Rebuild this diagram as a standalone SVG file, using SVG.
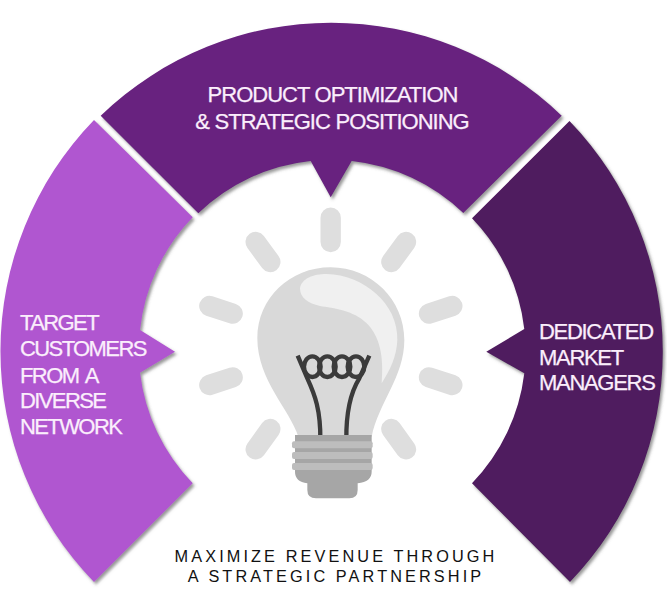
<svg xmlns="http://www.w3.org/2000/svg" width="667" height="607" viewBox="0 0 667 607">
<defs>
<filter id="sh" x="-10%" y="-10%" width="120%" height="120%"><feDropShadow dx="2" dy="2.5" stdDeviation="1.6" flood-color="#555" flood-opacity="0.6"/></filter>
</defs>
<style>
.lbl{font-family:"Liberation Sans",Arial,sans-serif;font-size:22px;fill:#fbeefc;stroke:#fbeefc;stroke-width:0.25px}
.top{letter-spacing:-1px;word-spacing:0.5px}
.lft{letter-spacing:-1.6px;word-spacing:3px}
.rgt{letter-spacing:-1.3px}
.cap{font-family:"Liberation Sans",Arial,sans-serif;font-size:16.3px;fill:#111;letter-spacing:3.1px;text-anchor:middle}
.ray{stroke:#dedede;stroke-width:61;stroke-linecap:round;fill:none}
.wire{stroke:#3b3b3b;stroke-width:13;fill:none}
.thread{fill:#bdbdbd}
</style>
<rect width="667" height="607" fill="#fff"/>
<g id="node-customers">
<path filter="url(#sh)" fill="#b056d0" d="M94 120A332 332 0 0 0 94 582L192.700 483.300A191 191 0 0 1 140 372.700L175 351.700L140 330A191 191 0 0 1 192.700 217.300Z"/>
<text class="lbl lft" x="20" y="330">TARGET</text>
<text class="lbl lft" x="20" y="356">CUSTOMERS</text>
<text class="lbl lft" x="20" y="382.500">FROM A</text>
<text class="lbl lft" x="20" y="408">DIVERSE</text>
<text class="lbl lft" x="20" y="434">NETWORK</text>
</g>
<g id="node-managers">
<path filter="url(#sh)" fill="#4f1a5e" d="M569.500 121A332 332 0 0 1 570 582L472 483.300A191 191 0 0 0 524.300 373.300L486.300 351.700L524.300 329A191 191 0 0 0 472 218.300Z"/>
<text class="lbl rgt" x="539" y="338.500">DEDICATED</text>
<text class="lbl rgt" x="539" y="365">MARKET</text>
<text class="lbl rgt" x="539" y="390">MANAGERS</text>
</g>
<g id="node-product">
<path filter="url(#sh)" fill="#68217f" d="M100.700 115.700A332 332 0 0 1 561.700 115.700L463.300 213A191 191 0 0 0 351.700 161L330.700 197.300L310.700 161A191 191 0 0 0 198.300 213.300Z"/>
<text class="lbl top" x="332.500" y="102.300" text-anchor="middle">PRODUCT OPTIMIZATION</text>
<text class="lbl top" x="332" y="128.500" text-anchor="middle">&amp; STRATEGIC POSITIONING</text>
</g>
<g id="node-bulb" transform="translate(190 200) scale(0.33333)">
<path class="ray" d="M422 53V126M197 126L241 186M648 126L604 186M58 318L128 341M787 318L717 341M58 555L128 532M787 555L717 532M241 687L197 748M604 687L648 748"/>
<path fill="#d9d9d9" d="M325 710C300 630 202 540 202 415C202 295 300 202 422 202C545 202 643 300 643 420C643 530 565 610 545 710Z"/>
<path fill="#f0f0f0" d="M330 265C335 235 370 222 410 222C520 225 625 310 622 420C620 470 600 510 575 550C582 470 570 410 530 370C490 330 430 325 390 318C355 310 330 295 330 265Z"/>
<path class="wire" d="M323 467L352 535C375 585 392 630 391 720M538 467L508 535C480 580 468 640 469 720"/>
<g class="wire"><ellipse cx="367" cy="500" rx="25" ry="31"/><ellipse cx="412" cy="500" rx="25" ry="31"/><ellipse cx="456" cy="500" rx="25" ry="31"/><ellipse cx="498" cy="500" rx="25" ry="31"/></g>
<path fill="#a6a6a6" d="M315 705H545V815Q545 845 503 850V870Q503 895 478 895H378Q352 895 352 870V850Q315 845 315 815Z"/>
<rect class="thread" x="306" y="724" width="242" height="21" rx="6"/>
<rect class="thread" x="306" y="756" width="242" height="21" rx="6"/>
<rect class="thread" x="306" y="789" width="242" height="21" rx="6"/>
</g>
<g id="caption">
<text class="cap" x="336" y="561.700">MAXIMIZE REVENUE THROUGH</text>
<text class="cap" x="336" y="582">A STRATEGIC PARTNERSHIP</text>
</g>
<g id="connectors"/>
</svg>
